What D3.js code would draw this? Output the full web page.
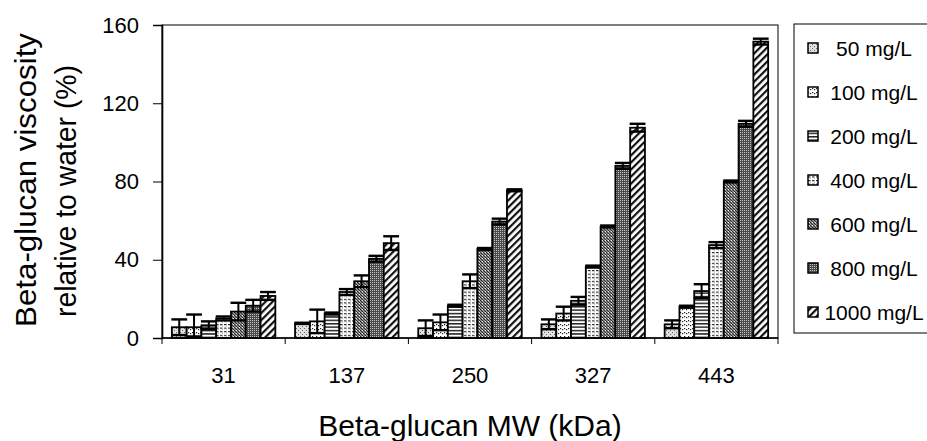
<!DOCTYPE html>
<html>
<head>
<meta charset="utf-8">
<script src="https://cdn.jsdelivr.net/npm/d3@7"></script>
<style>
  html, body { margin: 0; padding: 0; background: #fff; }
  svg { display: block; font-family: "Liberation Sans", Arial, Helvetica, sans-serif; }
</style>
</head>
<body>
<svg id="chart" width="927" height="441"></svg>
<script>
// ---- data ----
const categories = ["31", "137", "250", "327", "443"];
const seriesNames = ["50 mg/L", "100 mg/L", "200 mg/L", "400 mg/L", "600 mg/L", "800 mg/L", "1000 mg/L"];
const v50   = [5.5, 7.5, 5, 7, 7];
const v100  = [5.5, 8.5, 8, 12.5, 16];
const v200  = [6.5, 12.5, 16.5, 19, 24];
const v400  = [10, 23.5, 29, 36.5, 47.5];
const v600  = [13.5, 29, 45.5, 57, 80];
const v800  = [16.5, 40.5, 59.5, 88, 109.5];
const v1000 = [21.5, 48.5, 75.5, 107.5, 151.5];
const e50   = [4, 0.3, 4, 2.5, 2];
const e100  = [6.5, 6, 4, 3.5, 0.5];
const e200  = [2, 0.5, 0.5, 2, 3.5];
const e400  = [1, 1.5, 3.5, 0.5, 1.5];
const e600  = [4.5, 3, 0.5, 0.5, 0.5];
const e800  = [3, 1.5, 1.5, 1.5, 1.5];
const e1000 = [2, 3.5, 0.5, 2, 1.5];
const yTicks = [0, 40, 80, 120, 160];
const yTitle = ["Beta-glucan viscosity", "relative to water (%)"];
const xTitle = "Beta-glucan MW (kDa)";

const values = [v50, v100, v200, v400, v600, v800, v1000];
const errors = [e50, e100, e200, e400, e600, e800, e1000];

// ---- layout ----
const svg = d3.select("#chart");
const pLeft = 162, pRight = 778, pTop = 25, pBottom = 338;

const x0 = d3.scaleBand().domain(categories).range([pLeft, pRight]).paddingInner(0.16).paddingOuter(0.08);
const x1 = d3.scaleBand().domain(seriesNames).range([0, x0.bandwidth()]).padding(0);
const y = d3.scaleLinear().domain([0, 160]).range([pBottom, pTop]);

// ---- patterns ----
const defs = svg.append("defs");
function pat(id, w, h, draw) {
  const p = defs.append("pattern").attr("id", id).attr("patternUnits", "userSpaceOnUse")
    .attr("width", w).attr("height", h);
  p.append("rect").attr("width", w).attr("height", h).attr("fill", "#fff");
  draw(p);
}
// 50: light stipple
pat("p0", 4, 4, p => {
  p.append("rect").attr("width", 4).attr("height", 4).attr("fill", "#e0e0e0");
  [[0,0],[2,2]].forEach(([a,b]) => p.append("rect").attr("x", a).attr("y", b).attr("width", 1).attr("height", 1).attr("fill", "#666"));
});
// 100: rows of dots
pat("p1", 4, 4, p => {
  p.append("rect").attr("x", 0).attr("y", 0).attr("width", 1.2).attr("height", 1.2).attr("fill", "#222");
  p.append("rect").attr("x", 2).attr("y", 1).attr("width", 1.2).attr("height", 1.2).attr("fill", "#222");
});
// 200: horizontal lines
pat("p2", 4, 3.4, p => {
  p.append("rect").attr("x", 0).attr("y", 0).attr("width", 4).attr("height", 1.5).attr("fill", "#222");
});
// 400: horizontal dashed rows
pat("p3", 4, 3.6, p => {
  p.append("rect").attr("x", 0).attr("y", 0).attr("width", 2.5).attr("height", 1.1).attr("fill", "#222");
  p.append("rect").attr("x", 2).attr("y", 1.5).attr("width", 1).attr("height", 0.8).attr("fill", "#888");
});
// 600: medium-dark diagonal cross stipple
pat("p4", 3, 3, p => {
  p.append("rect").attr("width", 3).attr("height", 3).attr("fill", "#8a8a8a");
  [[0,0],[1,1],[2,2]].forEach(([a,b]) => p.append("rect").attr("x", a).attr("y", b).attr("width", 1).attr("height", 1).attr("fill", "#2a2a2a"));
  p.append("rect").attr("x", 2).attr("y", 0).attr("width", 1).attr("height", 1).attr("fill", "#eee");
});
// 800: darker dense diagonal
pat("p5", 2, 2, p => {
  p.append("rect").attr("width", 2).attr("height", 2).attr("fill", "#4a4a4a");
  p.append("rect").attr("x", 0).attr("y", 0).attr("width", 1).attr("height", 1).attr("fill", "#c4c4c4");
});
// 1000: diagonal "/" hatch
{
  const p = defs.append("pattern").attr("id", "p6").attr("patternUnits", "userSpaceOnUse")
    .attr("width", 5).attr("height", 5).attr("patternTransform", "rotate(45)");
  p.append("rect").attr("width", 5).attr("height", 5).attr("fill", "#fff");
  p.append("rect").attr("x", 0).attr("y", 0).attr("width", 2.2).attr("height", 5).attr("fill", "#111");
}

// ---- plot frame ----
svg.append("rect").attr("x", pLeft).attr("y", pTop).attr("width", pRight - pLeft).attr("height", pBottom - pTop)
  .attr("fill", "none").attr("stroke", "#000").attr("stroke-width", 1);

// ---- bars ----
const flat = [];
seriesNames.forEach((s, si) => categories.forEach((c, ci) => {
  flat.push({ s, si, c, v: values[si][ci], e: errors[si][ci] });
}));

const gBars = svg.append("g");
gBars.selectAll("rect.bar").data(flat).join("rect").attr("class", "bar")
  .attr("x", d => x0(d.c) + x1(d.s))
  .attr("y", d => y(d.v))
  .attr("width", x1.bandwidth())
  .attr("height", d => y(0) - y(d.v))
  .attr("fill", d => `url(#p${d.si})`)
  .attr("stroke", "#000").attr("stroke-width", 1.8);

// ---- error bars ----
const gErr = svg.append("g").attr("stroke", "#000").attr("stroke-width", 2);
flat.forEach(d => {
  const cx = x0(d.c) + x1(d.s) + x1.bandwidth() / 2;
  const hw = x1.bandwidth() / 2 + 0.5;
  const yt = y(d.v + d.e), yb = y(Math.max(0.8, d.v - d.e));
  gErr.append("line").attr("x1", cx).attr("x2", cx).attr("y1", yt).attr("y2", yb);
  gErr.append("line").attr("x1", cx - hw).attr("x2", cx + hw).attr("y1", yt).attr("y2", yt).attr("stroke-width", 2.4);
  gErr.append("line").attr("x1", cx - hw).attr("x2", cx + hw).attr("y1", yb).attr("y2", yb).attr("stroke-width", 2.4);
});

// ---- axes ----
const yAxis = d3.axisLeft(y).tickValues(yTicks).tickSize(9).tickPadding(14);
const gy = svg.append("g").attr("transform", `translate(${pLeft},0)`).call(yAxis);
gy.select(".domain").attr("stroke-width", 1.6);
gy.selectAll(".tick line").attr("stroke-width", 1);
gy.selectAll("text").attr("font-size", 22).attr("fill", "#000").attr("font-family", "Liberation Sans, Arial, sans-serif");

// x axis: ticks at category boundaries
const gx = svg.append("g");
gx.append("line").attr("x1", pLeft).attr("x2", pRight).attr("y1", pBottom).attr("y2", pBottom)
  .attr("stroke", "#000").attr("stroke-width", 1.6);
const step = x0.step();
const boundaries = categories.map(c => x0(c) - x0.paddingInner() * step / 2).concat([pRight]);
boundaries[0] = pLeft;
gx.selectAll("line.tk").data(boundaries).join("line").attr("class", "tk")
  .attr("x1", d => d).attr("x2", d => d).attr("y1", pBottom).attr("y2", pBottom + 6)
  .attr("stroke", "#000").attr("stroke-width", 1);
gx.selectAll("text").data(categories).join("text")
  .attr("x", d => x0(d) + x0.bandwidth() / 2).attr("y", 383)
  .attr("text-anchor", "middle").attr("font-size", 22).text(d => d);

// ---- titles ----
svg.append("text").attr("x", 470).attr("y", 436).attr("text-anchor", "middle")
  .attr("font-size", 30).text(xTitle);
svg.append("text").attr("transform", "translate(36,180) rotate(-90)").attr("text-anchor", "middle")
  .attr("font-size", 30).attr("textLength", 294).attr("lengthAdjust", "spacingAndGlyphs").text(yTitle[0]);
svg.append("text").attr("transform", "translate(76,191) rotate(-90)").attr("text-anchor", "middle")
  .attr("font-size", 30).attr("textLength", 252).attr("lengthAdjust", "spacingAndGlyphs").text(yTitle[1]);

// ---- legend ----
const lg = svg.append("g");
lg.append("rect").attr("x", 794).attr("y", 24).attr("width", 160).attr("height", 309)
  .attr("fill", "#fff").attr("stroke", "#000").attr("stroke-width", 1);
const ly = d3.scalePoint().domain(seriesNames).range([48, 312]);
seriesNames.forEach((s, i) => {
  lg.append("rect").attr("x", 808).attr("y", ly(s) - 5).attr("width", 10).attr("height", 10)
    .attr("fill", `url(#p${i})`).attr("stroke", "#000").attr("stroke-width", 1.5);
  lg.append("text").attr("x", 874).attr("y", ly(s) + 7.5).attr("text-anchor", "middle")
    .attr("font-size", 21).text(s);
});
</script>
</body>
</html>
